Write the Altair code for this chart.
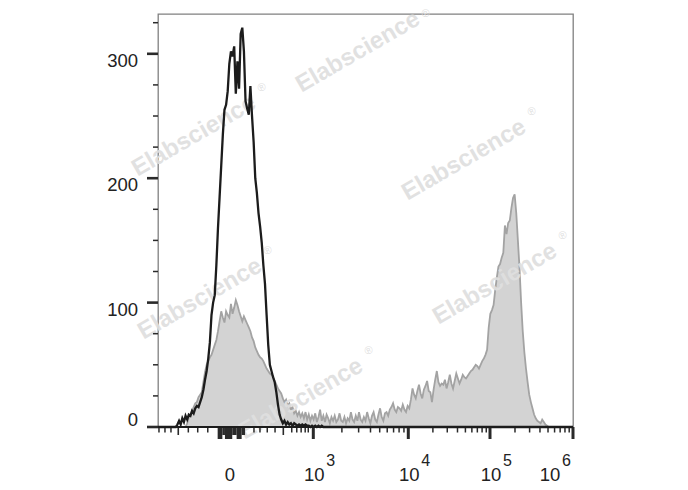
import altair as alt
import pandas as pd
import numpy as np

# ---------------- data (x = display channel, 0..256 across the biexponential axis) -------------
black_ch = [0] + list(range(10, 104)) + [256]
black_counts = ([0] +
    [0, 0, 2, 5, 2, 7, 4, 9, 6, 10,
     9, 13, 11, 15, 17, 16, 20, 24, 30, 38,
     45, 55, 68, 90, 100, 106, 130, 160, 185, 210,
     235, 255, 259, 270, 292, 302, 298, 306, 268, 294,
     272, 316, 321, 302, 262, 256, 251, 274, 250, 229,
     200, 188, 172, 161, 148, 130, 115, 90, 66, 50,
     45, 40, 36, 28, 18, 10, 6, 3, 5, 2,
     4, 2, 3, 1, 3, 2, 1, 2, 1, 2,
     1, 2, 1, 1, 0, 1, 0, 1, 0, 1, 0, 1, 0, 0] + [0])

gray_ch = [0] + list(range(17, 243)) + [256]
gray_counts = ([0] +
    [0, 3, 8, 10, 13, 16, 19, 20, 24, 26, 28, 36, 44, 50, 53, 56, 58, 62, 66, 70, 77, 85, 93,
     88, 84, 93, 90, 88, 99, 91, 96, 102, 98, 93, 89, 85, 89, 86, 83, 80, 77, 72, 69,
     64, 61, 58, 56, 55, 53, 50, 47, 45, 43, 42, 41, 37, 34, 31, 29, 27, 23, 20, 22,
     17, 19, 14, 16, 11, 13, 9, 12, 8, 11, 7, 12, 6, 10, 5, 9, 6, 11, 4, 8,
     14, 5, 9, 4, 10, 7, 3, 8, 5, 9, 4, 6, 11, 5, 4, 8, 3, 7, 5, 12,
     6, 4, 9, 5, 12, 6, 4, 8, 5, 12, 7, 3, 9, 12, 6, 4, 10, 15, 8, 5,
     11, 12, 9, 14, 16, 19, 14, 12, 16, 15, 13, 18, 14, 12, 17, 15, 22, 31, 26, 23,
     29, 34, 27, 23, 30, 33, 37, 29, 28, 20, 30, 38, 45, 36, 33, 35, 34, 38, 31, 36,
     42, 35, 31, 37, 43, 39, 35, 38, 42, 40, 39, 41, 43, 45, 46, 48, 50, 49, 47, 50,
     53, 55, 58, 62, 80, 91, 94, 98, 110, 120, 129, 131, 136, 140, 162, 155, 164, 166, 176, 184,
     187, 172, 150, 128, 100, 77, 60, 47, 36, 26, 20, 15, 10, 7, 5, 4, 3, 6, 4, 2,
     1, 0, 0] + [0])

# axis definition (biexponential display): channel of 0 and of each decade
ZERO_CH = 44.4
DECADE_CH = {3: 95.8, 4: 154.4, 5: 204.8, 6: 256.0}
decades = [3, 4, 5, 6]
low_minor_ch = [0.6, 4.3, 8.0, 18.7, 24.5, 30.7, 59.2, 62.9, 67.4, 72.2, 82.5, 85.6, 88.3, 90.8, 92.7]
long_minor_ch = [12.5, 77.3]
log_minor_ch = [DECADE_CH[d] + np.log10(m) * (DECADE_CH[d + 1] - DECADE_CH[d])
                for d in (3, 4, 5) for m in range(2, 10)]
zero_block_long = ([36.8, 41.3, 48.5], [39.7, 45.8, 51.6])
zero_block_short = ([39.7, 45.8, 51.6], [41.3, 48.5, 53.7])

y_major = [0, 100, 200, 300]
y_minor = [25, 50, 75, 125, 150, 175, 225, 250, 275, 325]

# ---------------- chart ----------------
W, H = 415, 413
FONT = "Liberation Sans"
TICK = "#2a2a2a"
WM = "#dfdfdf"
xs = alt.Scale(domain=[0, 256], nice=False, zero=False)
ys = alt.Scale(domain=[0, 332], nice=False)

gray_df = pd.DataFrame({"ch": gray_ch, "n": gray_counts})
black_df = pd.DataFrame({"ch": black_ch, "n": black_counts})

gray = alt.Chart(gray_df).mark_area(
    color="#d3d3d3", opacity=1,
    line=alt.OverlayMarkDef(color="#a3a3a3", strokeWidth=1.8)
).encode(x=alt.X("ch:Q", scale=xs, axis=None), y=alt.Y("n:Q", scale=ys, axis=None))

black = alt.Chart(black_df).mark_line(color="#1c1c1c", strokeWidth=2.3).encode(
    x=alt.X("ch:Q", scale=xs, axis=None), y=alt.Y("n:Q", scale=ys, axis=None))

wm_centers = [(200, 38), (36, 122), (306, 146), (337, 270), (42, 285), (143, 385)]
wm_layers = []
for cx, cy in wm_centers:
    wm_layers.append(alt.Chart().mark_text(
        text="Elabscience", font=FONT, fontWeight="bold", fontSize=24, angle=330,
        align="center", baseline="middle", color=WM, opacity=0.92
    ).encode(x=alt.value(cx), y=alt.value(cy)))
    wm_layers.append(alt.Chart().mark_text(
        text="®", font=FONT, fontSize=11, angle=330, align="center", baseline="middle",
        color=WM
    ).encode(x=alt.value(cx + 68), y=alt.value(max(cy - 48, 0))))


def xticks(chs, length, width):
    return alt.Chart(pd.DataFrame({"ch": chs})).mark_rule(color=TICK, strokeWidth=width).encode(
        x=alt.X("ch:Q", scale=xs, axis=None), y=alt.value(H), y2=alt.value(H + length))


def xblock(seg, length):
    return alt.Chart(pd.DataFrame({"a": seg[0], "b": seg[1]})).mark_rect(color=TICK).encode(
        x=alt.X("a:Q", scale=xs, axis=None), x2="b:Q", y=alt.value(H), y2=alt.value(H + length))


def yticks(vals, length, width):
    return alt.Chart(pd.DataFrame({"v": vals})).mark_rule(color=TICK, strokeWidth=width).encode(
        y=alt.Y("v:Q", scale=ys, axis=None), x=alt.value(-length), x2=alt.value(0))


tick_layers = [
    xticks(low_minor_ch + log_minor_ch, 5.5, 1.5),
    xticks(long_minor_ch, 8, 1.6),
    xticks([DECADE_CH[d] for d in decades], 12, 3),
    xblock(zero_block_long, 12),
    xblock(zero_block_short, 8),
    yticks(y_major, 11, 2.6),
    yticks(y_minor, 5, 1.5),
]

axis_line = alt.Chart().mark_rule(color="#1c1c1c", strokeWidth=2).encode(
    x=alt.value(0), x2=alt.value(W), y=alt.value(H))

lab_style = dict(font=FONT, color="#222222", baseline="middle")
ylab_df = pd.DataFrame({"v": y_major, "t": [str(v) for v in y_major]})
ylabels_up = alt.Chart(ylab_df).transform_filter("datum.v > 0").mark_text(
    fontSize=18.5, align="right", dy=7, **lab_style).encode(
    y=alt.Y("v:Q", scale=ys, axis=None), x=alt.value(-20), text="t:N")
ylabel_zero = alt.Chart(ylab_df).transform_filter("datum.v == 0").mark_text(
    fontSize=18.5, align="right", dy=-7, **lab_style).encode(
    y=alt.Y("v:Q", scale=ys, axis=None), x=alt.value(-20), text="t:N")

xlab_zero = alt.Chart(pd.DataFrame({"ch": [ZERO_CH], "t": ["0"]})).mark_text(
    fontSize=18.5, align="center", **lab_style).encode(
    x=alt.X("ch:Q", scale=xs, axis=None), y=alt.value(H + 48), text="t:N")
dec_df = pd.DataFrame({"ch": [DECADE_CH[d] for d in decades], "e": [str(d) for d in decades],
                       "b": ["10"] * 4, "d": decades})
xlab_base = alt.Chart(dec_df).transform_filter("datum.d < 6").mark_text(
    fontSize=18.5, align="center", dx=1, **lab_style).encode(
    x=alt.X("ch:Q", scale=xs, axis=None), y=alt.value(H + 48), text="b:N")
xlab_exp = alt.Chart(dec_df).transform_filter("datum.d < 6").mark_text(
    fontSize=16, align="left", dx=13, **lab_style).encode(
    x=alt.X("ch:Q", scale=xs, axis=None), y=alt.value(H + 34), text="e:N")
xlab_base6 = alt.Chart(dec_df).transform_filter("datum.d == 6").mark_text(
    fontSize=18.5, align="center", dx=-23, **lab_style).encode(
    x=alt.X("ch:Q", scale=xs, axis=None), y=alt.value(H + 48), text="b:N")
xlab_exp6 = alt.Chart(dec_df).transform_filter("datum.d == 6").mark_text(
    fontSize=16, align="left", dx=-11, **lab_style).encode(
    x=alt.X("ch:Q", scale=xs, axis=None), y=alt.value(H + 34), text="e:N")

chart = alt.layer(
    gray, *wm_layers, black, *tick_layers, axis_line,
    ylabels_up, ylabel_zero, xlab_zero, xlab_base, xlab_exp, xlab_base6, xlab_exp6
).properties(
    width=W, height=H, autosize="none",
    padding={"left": 150, "top": 6, "right": 107, "bottom": 63}
).configure_view(stroke="#808080", strokeWidth=1.3)

chart.save("out.html", embed_options={"renderer": "svg", "actions": False})
